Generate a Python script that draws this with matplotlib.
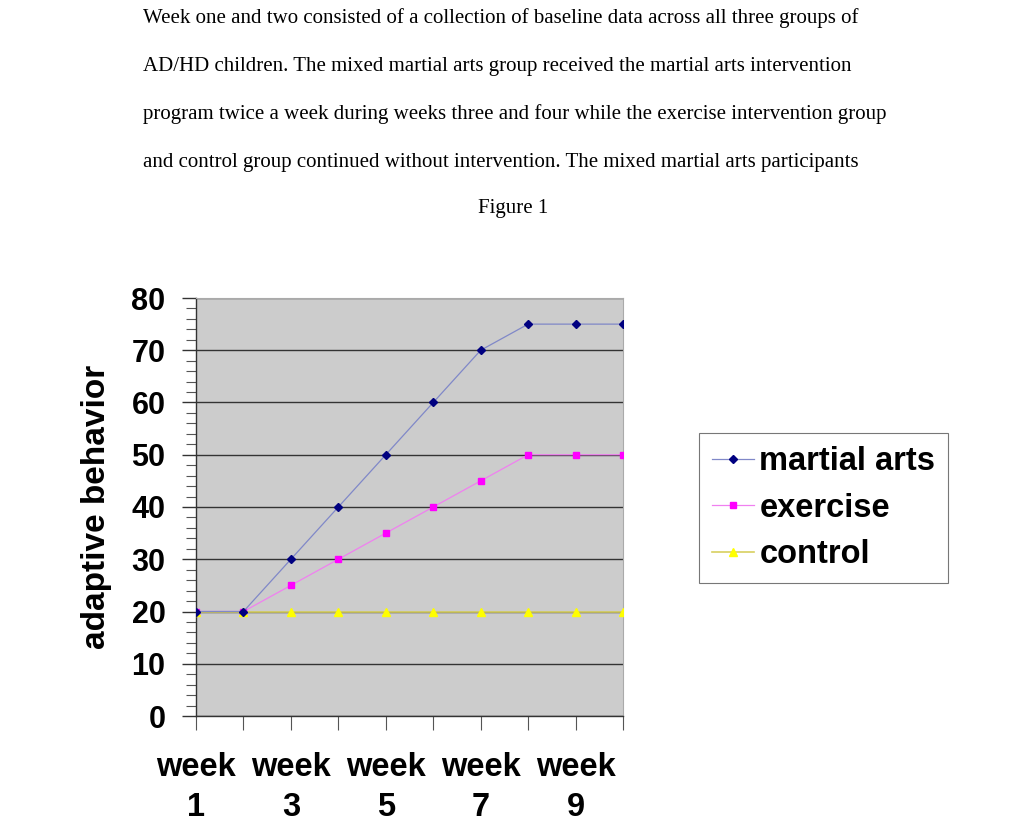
import matplotlib
matplotlib.use("Agg")
import matplotlib.pyplot as plt
from matplotlib.ticker import MultipleLocator

weeks = [1, 2, 3, 4, 5, 6, 7, 8, 9, 10]
martial_arts = [20, 20, 30, 40, 50, 60, 70, 75, 75, 75]
exercise = [20, 20, 25, 30, 35, 40, 45, 50, 50, 50]
control = [20, 20, 20, 20, 20, 20, 20, 20, 20, 20]
tick_labels = ["week\n%d" % w if w % 2 == 1 else "" for w in weeks]

paragraph = [
    "Week one and two consisted of a collection of baseline data across all three groups of",
    "AD/HD children. The mixed martial arts group received the martial arts intervention",
    "program twice a week during weeks three and four while the exercise intervention group",
    "and control group continued without intervention. The mixed martial arts participants",
]

fig = plt.figure(figsize=(10.24, 8.33), dpi=100)
fig.patch.set_facecolor("white")

# page text above the chart
serif = ["Liberation Serif", "DejaVu Serif"]
for i, line in enumerate(paragraph):
    fig.text(143 / 1024, 1 - (18 + 48 * i) / 833, line, family=serif, fontsize=15.05,
             va="center", ha="left")
fig.text(513 / 1024, 1 - 209 / 833, "Figure 1", family=serif, fontsize=15.05,
         va="center", ha="center")

ax = fig.add_axes([196 / 1024, 1 - 716 / 833, 427 / 1024, 418 / 833])
ax.set_facecolor("#cccccc")

ax.plot(weeks, martial_arts, color="#8088c8", lw=0.9, marker="D", ms=4,
        mfc="#000080", mec="#000080", label="martial arts", zorder=4)
ax.plot(weeks, exercise, color="#f080f0", lw=0.9, marker="s", ms=5,
        mfc="#ff00ff", mec="#ff00ff", label="exercise", zorder=3)
ax.plot(weeks, control, color="#d8d060", lw=1.2, marker="^", ms=6,
        mfc="#ffff00", mec="#ffff00", label="control", zorder=3)

ax.set_xlim(1, 10)
ax.set_ylim(0, 80)
ax.yaxis.set_major_locator(MultipleLocator(10))
ax.yaxis.set_minor_locator(MultipleLocator(2))
ax.set_xticks(weeks)
ax.set_xticklabels(tick_labels, fontsize=23.5, fontweight="bold", family="Liberation Sans",
                   linespacing=1.35)
for lab in ax.get_yticklabels():
    lab.set_fontsize(22)
    lab.set_fontweight("bold")
    lab.set_family("Liberation Sans")

ax.tick_params(axis="y", which="major", length=10, width=1, color="#333333", pad=12)
ax.tick_params(axis="y", which="minor", length=7, width=0.8, color="#555555")
ax.tick_params(axis="x", which="major", length=10, width=0.8, color="#555555", pad=16)

ax.grid(axis="y", which="major", color="#333333", lw=1)
ax.set_axisbelow(True)

for side in ["top", "right"]:
    ax.spines[side].set_color("#aaaaaa")
    ax.spines[side].set_linewidth(0.8)
for side in ["left", "bottom"]:
    ax.spines[side].set_color("#333333")
    ax.spines[side].set_linewidth(1)

ax.set_ylabel("adaptive behavior", fontsize=24, fontweight="bold",
              family="Liberation Sans", labelpad=14)

leg = ax.legend(loc="upper left", bbox_to_anchor=(699 / 1024, 1 - 433 / 833),
                bbox_transform=fig.transFigure, frameon=True, fancybox=False,
                prop={"family": "Liberation Sans", "weight": "bold", "size": 23.5},
                handlelength=1.3, borderpad=0.4, labelspacing=0.48, handletextpad=0.15,
                borderaxespad=0)
leg.get_frame().set_edgecolor("#555555")
leg.get_frame().set_linewidth(0.8)

fig.savefig("out.png", dpi=100)
